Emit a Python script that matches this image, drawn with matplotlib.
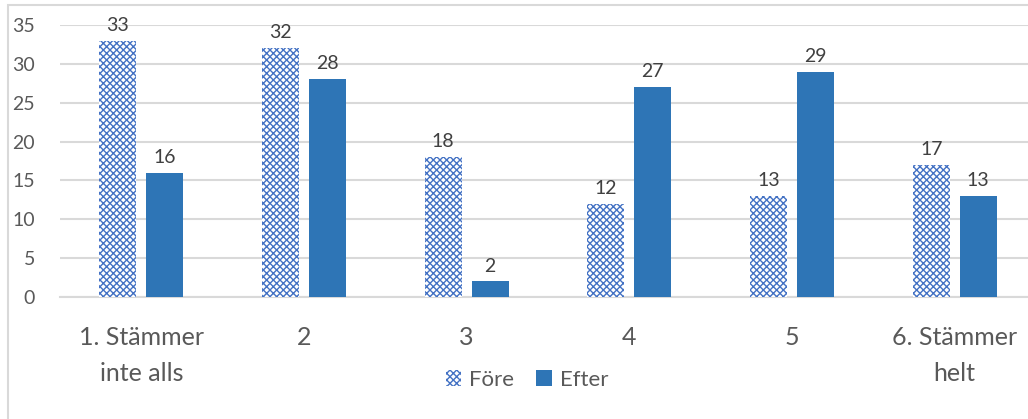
"""Före/Efter bar chart."""

import matplotlib

matplotlib.use("Agg")
import matplotlib.pyplot as plt
import numpy as np
from matplotlib.patches import Patch, Rectangle

categories = ["1. Stämmer\ninte alls", "2", "3", "4", "5", "6. Stämmer\nhelt"]
fore = [33, 32, 18, 12, 13, 17]
efter = [16, 28, 2, 27, 29, 13]
yticks = [0, 5, 10, 15, 20, 25, 30, 35]

TEXT = "#595959"
GRID = "#D9D9D9"
EFTER_COLOR = "#2E75B6"
FORE_COLOR = "#4472C4"

plt.rcParams["font.family"] = ["Lato", "DejaVu Sans"]
plt.rcParams["hatch.linewidth"] = 1.0

fig = plt.figure(figsize=(10.28, 4.19), dpi=100)
ax = fig.add_axes([60 / 1028, 1 - 297 / 419, (1036 - 60) / 1028, (297 - 25) / 419])

x = np.arange(len(categories))
width = 0.227
offset = 0.144

bars_f = ax.bar(x - offset, fore, width, facecolor="white", edgecolor=FORE_COLOR,
                hatch="xxxxx", linewidth=0, zorder=3)
bars_e = ax.bar(x + offset, efter, width, color=EFTER_COLOR, zorder=3)

for bars in (bars_f, bars_e):
    for b in bars:
        ax.annotate(f"{b.get_height():g}", (b.get_x() + b.get_width() / 2, b.get_height()),
                    xytext=(0, 5), textcoords="offset points", ha="center", va="bottom",
                    fontsize=14, color="#404040")

ax.set_xlim(-0.5, len(categories) - 0.5)
ax.set_ylim(0, 35)
ax.set_yticks(yticks)
ax.set_xticks(x)
ax.set_xticklabels(categories, fontsize=18, color=TEXT, linespacing=1.65)
ax.tick_params(axis="x", length=0, pad=21)
ax.tick_params(axis="y", length=0, pad=18, labelsize=14, labelcolor=TEXT)
ax.yaxis.grid(True, color=GRID, linewidth=1.5, zorder=0)
ax.set_axisbelow(True)
for side in ("top", "right", "left"):
    ax.spines[side].set_visible(False)
ax.spines["bottom"].set_color(GRID)
ax.spines["bottom"].set_linewidth(1.5)

handles = [
    Patch(facecolor="white", edgecolor=FORE_COLOR, hatch="xxxxx", linewidth=0, label="Före"),
    Patch(facecolor=EFTER_COLOR, label="Efter"),
]
fig.legend(handles=handles, loc="center", bbox_to_anchor=(527 / 1028, 1 - 380 / 419),
           ncol=2, frameon=False, fontsize=16, labelcolor=TEXT,
           handlelength=0.7, handleheight=0.7, handletextpad=0.35, columnspacing=1.0)

# chart border
fig.patches.append(Rectangle((8 / 1028, -0.01), 1.02, 1 - 5 / 419 + 0.01,
                             transform=fig.transFigure, fill=False,
                             edgecolor=GRID, linewidth=1.5))

fig.savefig("out.png", dpi=100)
